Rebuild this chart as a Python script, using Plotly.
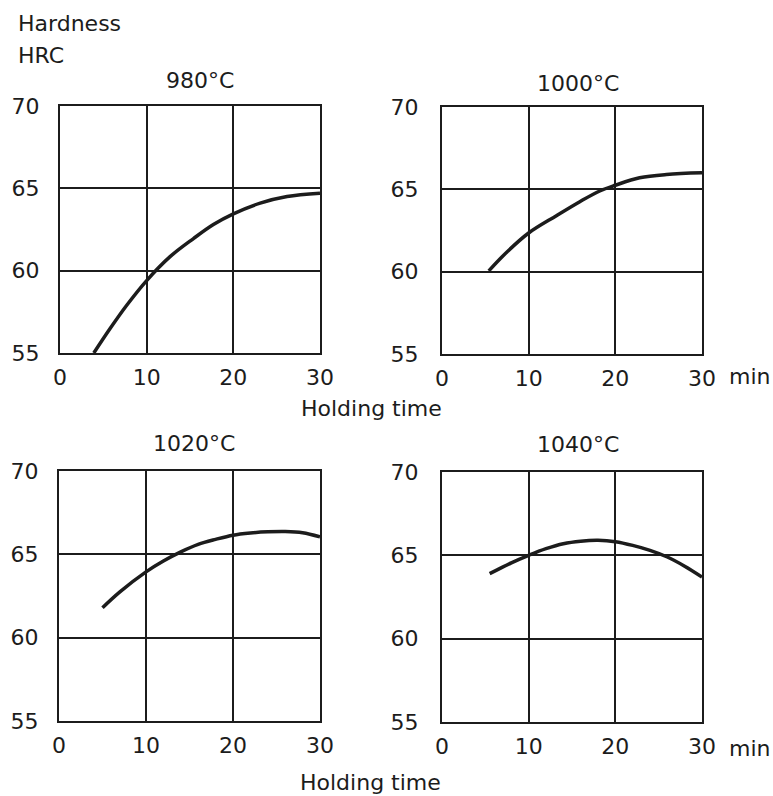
import plotly.graph_objects as go

# ---- data ----
titles = ["980°C", "1000°C", "1020°C", "1040°C"]

t_980 = [3.9, 5.8, 7.7, 10, 12.7, 15.4, 17.7, 20, 23.1, 26.2, 30]
h_980 = [55.0, 56.5, 57.9, 59.4, 60.85, 61.95, 62.8, 63.45, 64.1, 64.5, 64.7]

t_1000 = [5.4, 7.5, 10, 13.2, 15.9, 18.2, 20, 22.8, 25.9, 30]
h_1000 = [60.05, 61.2, 62.35, 63.4, 64.25, 64.9, 65.25, 65.7, 65.9, 66.0]

t_1020 = [5, 7, 10, 12, 14, 16, 18, 20, 22, 24, 26, 28, 30]
h_1020 = [61.8, 62.75, 63.95, 64.6, 65.15, 65.6, 65.9, 66.15, 66.28, 66.35, 66.37, 66.3, 66.05]

t_1040 = [5.5, 8, 10, 12, 14, 16, 18, 20, 22, 24, 26, 28, 30]
h_1040 = [63.9, 64.55, 65.0, 65.4, 65.7, 65.85, 65.9, 65.82, 65.6, 65.3, 64.9, 64.35, 63.7]

x_ticks = [0, 10, 20, 30]
y_ticks = [55, 60, 65, 70]

series = [(t_980, h_980), (t_1000, h_1000), (t_1020, h_1020), (t_1040, h_1040)]

W, H = 773, 796
INK = "#1c1c1c"
FONT = "DejaVu Sans"
FS = 22

def px(x):
    return x / W

def py(y):
    return 1 - y / H

# plot boxes in pixels (left, right, top, bottom)
boxes = [(60, 320, 106, 353), (442, 702, 107, 354), (59, 320, 471, 721), (442, 702, 472, 722)]

fig = go.Figure()
for i, ((t, h), (l, r, tp, bt)) in enumerate(zip(series, boxes)):
    n = "" if i == 0 else str(i + 1)
    fig.add_trace(go.Scatter(x=t, y=h, mode="lines",
                             line=dict(color=INK, width=3.5, shape="spline", smoothing=1.0),
                             xaxis="x" + n, yaxis="y" + n, showlegend=False,
                             hoverinfo="x+y"))
    common = dict(showline=True, linecolor=INK, linewidth=2, mirror=True,
                  showgrid=True, gridcolor=INK, gridwidth=1.5, zeroline=False,
                  automargin=False, ticks="",
                  tickfont=dict(family=FONT, size=FS, color=INK))
    fig.layout["xaxis" + n] = dict(domain=[px(l), px(r)], range=[0, 30],
                                   tickvals=x_ticks, ticktext=[str(v) for v in x_ticks],
                                   anchor="y" + n, ticklabelstandoff=4, **common)
    fig.layout["yaxis" + n] = dict(domain=[py(bt), py(tp)], range=[55, 70],
                                   tickvals=y_ticks, ticktext=[str(v) for v in y_ticks],
                                   anchor="x" + n, ticklabelstandoff=14 if i % 2 == 0 else 17,
                                   **common)

ann = []
def text(s, x, y, xanchor="center", size=FS):
    ann.append(dict(text=s, x=px(x), y=py(y), xref="paper", yref="paper",
                    xanchor=xanchor, yanchor="middle", showarrow=False,
                    font=dict(family=FONT, size=size, color=INK)))

text("Hardness", 16, 23, "left")
text("HRC", 16, 56, "left")
text(titles[0], 200, 80)
text(titles[1], 578, 83)
text(titles[2], 194, 443)
text(titles[3], 578, 445)
text("Holding time", 371, 408)
text("Holding time", 370, 782)
text("min", 727, 376, "left")
text("min", 727, 748, "left")

fig.update_layout(width=W, height=H, margin=dict(l=0, r=0, t=0, b=0),
                  paper_bgcolor="white", plot_bgcolor="white",
                  annotations=ann, showlegend=False)

fig.write_html("out.html", config={"displayModeBar": False},
               post_script="document.body.style.margin='0';document.body.style.overflow='hidden';")
